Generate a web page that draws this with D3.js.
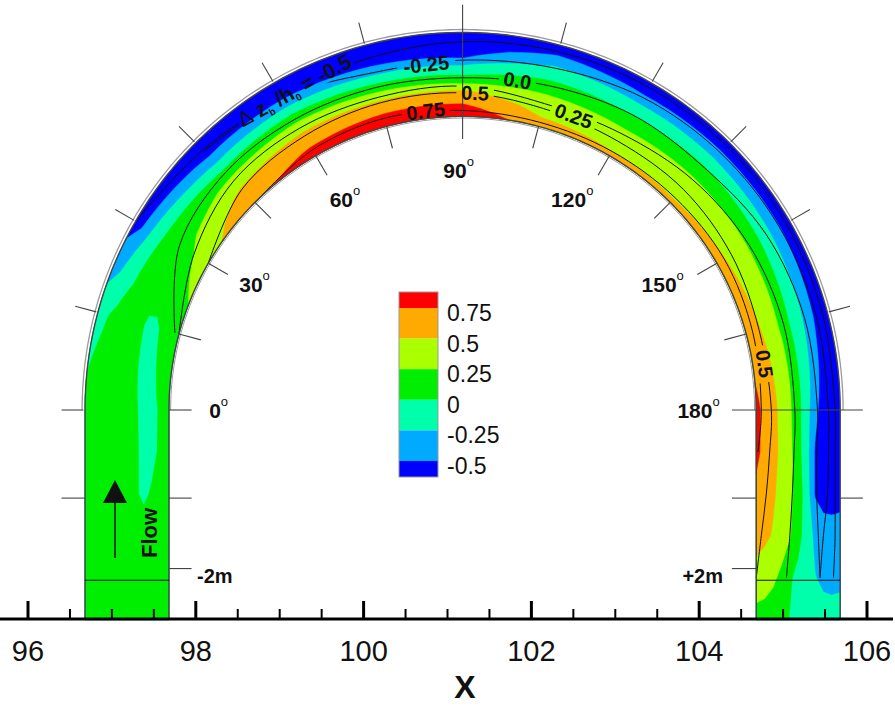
<!DOCTYPE html>
<html>
<head>
<meta charset="utf-8">
<script src="https://cdn.jsdelivr.net/npm/d3@7"></script>
<style>
  body { margin: 0; background: #fff; }
  svg text { font-family: "Liberation Sans", Arial, sans-serif; }
</style>
</head>
<body>
<svg id="chart" width="895" height="706"></svg>
<script>
// ---- data ----
// streamwise stations: left straight (y, m), bend (deg), right straight (y, m)
var leftY = [-2.5, -2, -1.5, -1, -0.5];
var bendAngles = [0, 15, 30, 45, 60, 75, 90, 105, 120, 135, 150, 165, 180];
var rightY = [-0.5, -1, -1.5, -2, -2.5];
// cross-stream positions, 0 = inner bank, 1 = outer bank
var crossN = [0, 0.1, 0.2, 0.3, 0.4, 0.5, 0.6, 0.7, 0.8, 0.9, 1];

// measured dz_b/h_0, one row per station, inner -> outer
var dzLeft = [
  [0.10, 0.10, 0.12, 0.12, 0.10, 0.10, 0.10, 0.10, 0.10, 0.08, 0.08],
  [0.12, 0.12, 0.12, 0.10, 0.10, 0.10, 0.10, 0.10, 0.10, 0.10, 0.08],
  [0.10, 0.10, 0.08, 0.08, 0.10, 0.12, 0.12, 0.12, 0.10, 0.10, 0.10],
  [0.10, 0.06, 0.02, -0.03, 0.02, 0.08, 0.10, 0.10, 0.10, 0.10, 0.10],
  [0.08, 0.03, -0.04, -0.05, 0.03, 0.08, 0.10, 0.10, 0.10, 0.10, 0.10]
];
var dzBend = [
  [0.06, 0.02, -0.04, -0.05, 0.02, 0.08, 0.10, 0.10, 0.10, 0.08, 0.06],
  [0.15, 0.08, 0.02, -0.03, -0.02, 0.05, 0.10, 0.08, 0.04, -0.02, -0.10],
  [0.40, 0.33, 0.25, 0.20, 0.15, 0.10, 0.02, -0.12, -0.30, -0.52, -0.60],
  [0.70, 0.64, 0.55, 0.42, 0.28, 0.08, -0.12, -0.35, -0.55, -0.65, -0.72],
  [0.86, 0.77, 0.66, 0.53, 0.37, 0.16, -0.07, -0.31, -0.55, -0.65, -0.72],
  [0.93, 0.82, 0.69, 0.53, 0.30, 0.05, -0.18, -0.44, -0.60, -0.70, -0.78],
  [0.95, 0.82, 0.68, 0.52, 0.22, -0.02, -0.23, -0.51, -0.65, -0.75, -0.80],
  [0.62, 0.51, 0.42, 0.34, 0.24, 0.09, -0.05, -0.18, -0.35, -0.55, -0.62],
  [0.55, 0.47, 0.39, 0.31, 0.22, 0.07, -0.07, -0.22, -0.45, -0.60, -0.66],
  [0.54, 0.47, 0.40, 0.33, 0.26, 0.14, -0.01, -0.17, -0.38, -0.58, -0.65],
  [0.58, 0.51, 0.43, 0.35, 0.27, 0.12, -0.04, -0.19, -0.38, -0.56, -0.65],
  [0.66, 0.58, 0.48, 0.36, 0.24, 0.04, -0.11, -0.26, -0.46, -0.62, -0.70],
  [0.80, 0.70, 0.57, 0.43, 0.29, 0.07, -0.15, -0.43, -0.62, -0.72, -0.78]
];
var dzRight = [
  [0.80, 0.69, 0.57, 0.45, 0.32, 0.08, -0.15, -0.52, -0.65, -0.72, -0.75],
  [0.70, 0.62, 0.53, 0.43, 0.32, 0.12, -0.12, -0.52, -0.60, -0.60, -0.58],
  [0.60, 0.55, 0.48, 0.37, 0.27, 0.08, -0.12, -0.30, -0.38, -0.40, -0.40],
  [0.40, 0.35, 0.29, 0.20, 0.03, -0.07, -0.16, -0.24, -0.30, -0.32, -0.32],
  [0.15, 0.15, 0.12, 0.08, -0.01, -0.08, -0.10, -0.12, -0.15, -0.15, -0.12]
];

var levels = [-0.5, -0.25, 0, 0.25, 0.5, 0.75];
var bandColors = ["#0000ff", "#00aaff", "#00ffaa", "#00ee00", "#aaff00", "#ffaa00", "#ff0000"];
var legendLabels = ["0.75", "0.5", "0.25", "0", "-0.25", "-0.5"];

// computed contour lines: cross-stream position n at each station (null = absent)
var _ = null;
var lineM050 = [_, _, _, _, _, _, _, 1.0, 0.88, 0.81, 0.84, 0.89, 0.92, 0.94, 0.95, 0.95, 0.94, 0.94, 0.94, 0.94, 0.94, 0.92, _];
var lineM025 = [_, _, _, _, _, _, _, _, 0.86, 0.80, 0.66, 0.67, 0.72, 0.80, 0.84, 0.86, 0.86, 0.86, 0.86, 0.85, 0.80, 0.76, _];
var lineZero = [_, _, _, _, _, _, 0.05, 0.40, 0.50, 0.50, 0.48, 0.46, 0.50, 0.56, 0.58, 0.68, 0.72, 0.73, 0.72, 0.72, 0.74, 0.76, _];
var lineP025 = [_, _, _, _, _, _, 0.0, 0.20, 0.36, 0.38, 0.36, 0.36, 0.28, 0.30, 0.38, 0.44, 0.46, 0.46, 0.45, 0.43, 0.40, 0.36, _];
var lineP050 = [_, _, _, _, _, _, _, 0.0, 0.22, 0.27, 0.29, 0.28, 0.22, 0.20, 0.22, 0.20, 0.16, 0.18, 0.16, 0.12, 0.06, 0.0, _];
var lineP075 = [_, _, _, _, _, _, _, _, 0.0, 0.08, 0.10, 0.07, 0.05, 0.06, 0.08, 0.10, 0.08, 0.06, 0.02, _, _, _, _];

var xTicks = [96, 98, 100, 102, 104, 106];
var angleLabels = [0, 30, 60, 90, 120, 150, 180];

// ---- geometry ----
var cx = 101.18, rIn = 3.5, rOut = 4.5;
var svg = d3.select("#chart");
var x = d3.scaleLinear().domain([96, 106]).range([28, 867]);
var pxPerM = x(1) - x(0);
var y = d3.scaleLinear().domain([0, 1]).range([410, 410 - pxPerM]);

var rows = dzLeft.concat(dzBend, dzRight);
var nSt = rows.length, nCross = crossN.length;
var nLeft = leftY.length, nBend = bendAngles.length;

function stationXY(j, n) {
  var r = rIn + n * (rOut - rIn);
  if (j < nLeft) return [cx - r, leftY[j]];
  if (j < nLeft + nBend) {
    var a = bendAngles[j - nLeft] * Math.PI / 180;
    return [cx - r * Math.cos(a), r * Math.sin(a)];
  }
  return [cx + r, rightY[j - nLeft - nBend]];
}
function toMeters(gj, n) {
  var j0 = Math.min(Math.floor(gj), nSt - 2), t = gj - j0;
  var inBend = j0 >= nLeft && j0 + 1 < nLeft + nBend;
  if (inBend) {
    var r = rIn + n * (rOut - rIn);
    var a = (bendAngles[j0 - nLeft] * (1 - t) + bendAngles[j0 + 1 - nLeft] * t) * Math.PI / 180;
    return [cx - r * Math.cos(a), r * Math.sin(a)];
  }
  var p = stationXY(j0, n), q = stationXY(j0 + 1, n);
  return [p[0] + (q[0] - p[0]) * t, p[1] + (q[1] - p[1]) * t];
}
function toPx(gj, n) { var m = toMeters(gj, n); return [x(m[0]), y(m[1])]; }
function polarPx(deg, r) {
  var a = deg * Math.PI / 180;
  return [x(cx - r * Math.cos(a)), y(r * Math.sin(a))];
}

// ---- filled contours ----
var values = [];
rows.forEach(function(row) { row.forEach(function(v) { values.push(v); }); });
var thresholds = [-9].concat(levels);
var contours = d3.contours().size([nCross, nSt]).thresholds(thresholds)(values);

function gridPx(p) {
  var i = Math.max(0, Math.min(nCross - 1, p[0] - 0.5));
  var j = Math.max(0, Math.min(nSt - 1, p[1] - 0.5));
  return toPx(j, crossN[0] + i * (crossN[nCross - 1] - crossN[0]) / (nCross - 1));
}
function ringPath(ring) {
  var pts = [];
  for (var k = 0; k < ring.length - 1; k++) {
    var a = ring[k], b = ring[k + 1];
    var steps = Math.max(1, Math.ceil(Math.max(Math.abs(b[0] - a[0]) / 0.5, Math.abs(b[1] - a[1]) / 0.15)));
    for (var s = 0; s < steps; s++) {
      var t = s / steps;
      pts.push(gridPx([a[0] + (b[0] - a[0]) * t, a[1] + (b[1] - a[1]) * t]));
    }
  }
  return d3.line()(pts) + "Z";
}
svg.append("g").selectAll("path")
  .data(contours)
  .join("path")
  .attr("d", function(c) {
    return c.coordinates.map(function(poly) { return poly.map(ringPath).join(""); }).join("");
  })
  .attr("fill", function(c, i) { return bandColors[i]; })
  .attr("fill-rule", "evenodd")
  .attr("stroke", function(c, i) { return bandColors[i]; })
  .attr("stroke-width", 0.4);

// ---- contour lines (with gaps for labels) ----
var labels = [
  { s: 9.15, n: 0.80, rot: -29, text: "dz" },
  { s: 10.6, n: 0.64, rot: -6, text: "-0.25" },
  { s: 11.63, n: 0.48, rot: 9.5, text: "0.0" },
  { s: 11.15, n: 0.28, rot: 2, text: "0.5" },
  { s: 12.38, n: 0.245, rot: 20.5, text: "0.25" },
  { s: 10.53, n: 0.09, rot: -7, text: "0.75" },
  { s: 16.42, n: 0.14, rot: 82, text: "0.5" }
];
var defs = svg.append("defs");
var mask = defs.append("mask").attr("id", "gapMask").attr("maskUnits", "userSpaceOnUse")
  .attr("x", 0).attr("y", 0).attr("width", 895).attr("height", 706);
mask.append("rect").attr("width", 895).attr("height", 706).attr("fill", "#fff");
labels.forEach(function(l) {
  var p = toPx(l.s, l.n);
  var w = l.text === "dz" ? 130 : l.text.length * 10.5 + 6;
  mask.append("rect")
    .attr("x", -w / 2).attr("y", -9).attr("width", w).attr("height", 18)
    .attr("transform", "translate(" + p + ")rotate(" + l.rot + ")")
    .attr("fill", "#000");
});

var contourLines = [lineM050, lineM025, lineZero, lineP025, lineP050, lineP075];
var lineGen = d3.line()
  .defined(function(d) { return d !== null; })
  .x(function(d) { return d[0]; }).y(function(d) { return d[1]; })
  .curve(d3.curveCatmullRom.alpha(0.5));
svg.append("g").attr("mask", "url(#gapMask)")
  .selectAll("path")
  .data(contourLines)
  .join("path")
  .attr("d", function(arr) {
    return lineGen(arr.map(function(n, j) { return n === null ? null : toPx(j, n); }));
  })
  .attr("fill", "none").attr("stroke", "#111").attr("stroke-width", 1);

// ---- channel banks ----
function bankPath(n) {
  var pts = [];
  for (var g = 0; g <= nSt - 1 + 1e-9; g += 0.05) pts.push(toPx(g, n));
  return d3.line()(pts);
}
svg.append("path").attr("d", bankPath(0)).attr("fill", "none").attr("stroke", "#444").attr("stroke-width", 1.4);
svg.append("path").attr("d", bankPath(1)).attr("fill", "none").attr("stroke", "#444").attr("stroke-width", 1.4);
svg.append("path")
  .attr("d", d3.line()(d3.range(0, 180.5, 1).map(function(a) { return polarPx(a, rOut + 0.035); })))
  .attr("fill", "none").attr("stroke", "#9a9a9a").attr("stroke-width", 1.3);
svg.append("path")
  .attr("d", d3.line()(d3.range(0, 180.5, 1).map(function(a) { return polarPx(a, rIn - 0.02); })))
  .attr("fill", "none").attr("stroke", "#9a9a9a").attr("stroke-width", 1);

// ---- angle ticks ----
var tickG = svg.append("g").attr("stroke", "#444").attr("stroke-width", 1.1);
d3.range(0, 181, 15).forEach(function(a) {
  if (a === 90 || a === 180) {
    var r0 = a === 90 ? rIn - 0.27 : rIn - 0.29, r1 = a === 90 ? rOut + 0.33 : rOut + 0.27;
    var p0 = polarPx(a, r0), p1 = polarPx(a, r1);
    tickG.append("line").attr("x1", p0[0]).attr("y1", p0[1]).attr("x2", p1[0]).attr("y2", p1[1]);
    return;
  }
  var o0 = polarPx(a, rOut + 0.02), o1 = polarPx(a, rOut + 0.28);
  var i0 = polarPx(a, rIn), i1 = polarPx(a, rIn - 0.27);
  tickG.append("line").attr("x1", o0[0]).attr("y1", o0[1]).attr("x2", o1[0]).attr("y2", o1[1]);
  tickG.append("line").attr("x1", i0[0]).attr("y1", i0[1]).attr("x2", i1[0]).attr("y2", i1[1]);
});
// straight-leg ticks
[[cx - rOut - 0.28, cx - rOut], [cx - rIn, cx - rIn + 0.27], [cx + rIn - 0.29, cx + rIn], [cx + rOut, cx + rOut + 0.27]]
  .forEach(function(seg) {
    tickG.append("line").attr("x1", x(seg[0])).attr("x2", x(seg[1])).attr("y1", y(-1.05)).attr("y2", y(-1.05));
  });
[[cx - rIn, cx - rIn + 0.27], [cx + rIn - 0.29, cx + rIn]].forEach(function(seg) {
  tickG.append("line").attr("x1", x(seg[0])).attr("x2", x(seg[1])).attr("y1", y(-1.89)).attr("y2", y(-1.89));
});
// section line at -2 m across both legs
[[cx - rOut, cx - rIn], [cx + rIn, cx + rOut]].forEach(function(seg) {
  svg.append("line").attr("x1", x(seg[0])).attr("x2", x(seg[1])).attr("y1", y(-2.03)).attr("y2", y(-2.03))
    .attr("stroke", "#111").attr("stroke-width", 1.1);
});

// ---- angle labels ----
angleLabels.forEach(function(a) {
  var p = polarPx(a + 2 * Math.sin(2 * a * Math.PI / 180), 2.86);
  var t = svg.append("text").attr("x", p[0] - 4).attr("y", p[1] + 8)
    .attr("text-anchor", "middle").attr("font-size", 21).attr("font-weight", "bold").attr("fill", "#111");
  t.append("tspan").text(a);
  t.append("tspan").attr("dy", -12).attr("font-size", 13).attr("font-weight", "normal").text("o");
});

// ---- contour labels ----
labels.forEach(function(l) {
  var p = toPx(l.s, l.n);
  var t = svg.append("text")
    .attr("transform", "translate(" + p + ")rotate(" + l.rot + ")")
    .attr("text-anchor", "middle").attr("dy", 7)
    .attr("font-size", 20).attr("font-weight", "bold").attr("fill", "#111");
  if (l.text === "dz") {
    t.attr("font-size", 21);
    t.append("tspan").attr("font-weight", "normal").text("\u0394");
    t.append("tspan").text(" z");
    t.append("tspan").attr("font-size", 10).attr("dy", 4).text("b");
    t.append("tspan").attr("dy", -4).text(" /h");
    t.append("tspan").attr("font-size", 10).attr("dy", 4).text("0");
    t.append("tspan").attr("dy", -4).text(" = -0.5");
  } else {
    t.text(l.text);
  }
});

// ---- legend ----
var legendScale = d3.scaleLinear().domain([0, 5]).range([308, 461]);
var legendColorsTop = bandColors.slice().reverse();
var lg = svg.append("g");
legendColorsTop.forEach(function(c, i) {
  var top = i === 0 ? 292 : legendScale(i - 1);
  var bot = i === 6 ? 477 : legendScale(i);
  lg.append("rect").attr("x", 399).attr("y", top).attr("width", 39).attr("height", bot - top).attr("fill", c);
});
lg.append("rect").attr("x", 399).attr("y", 292).attr("width", 39).attr("height", 185)
  .attr("fill", "none").attr("stroke", "#999").attr("stroke-width", 1);
legendLabels.forEach(function(lab, i) {
  lg.append("text").attr("x", 447).attr("y", legendScale(i) + 13)
    .attr("font-size", 23).attr("fill", "#111").text(lab);
});

// ---- flow arrow + station labels ----
svg.append("line").attr("x1", 115).attr("x2", 115).attr("y1", 502).attr("y2", 558)
  .attr("stroke", "#111").attr("stroke-width", 1.5);
svg.append("path").attr("d", "M103,503L127,503L115,480Z").attr("fill", "#111");
svg.append("text").attr("transform", "translate(157,533)rotate(-90)")
  .attr("text-anchor", "middle").attr("font-size", 22).attr("font-weight", "bold").attr("fill", "#111").text("Flow");
svg.append("text").attr("x", 197).attr("y", 583).attr("font-size", 20).attr("font-weight", "bold").attr("fill", "#111").text("-2m");
svg.append("text").attr("x", 723).attr("y", 583).attr("text-anchor", "end").attr("font-size", 20).attr("font-weight", "bold").attr("fill", "#111").text("+2m");

// ---- x axis ----
var axisY = 619;
svg.append("line").attr("x1", 0).attr("x2", 893).attr("y1", axisY).attr("y2", axisY)
  .attr("stroke", "#000").attr("stroke-width", 3);
var ax = svg.append("g");
d3.range(96, 106.01, 0.5).forEach(function(v) {
  var major = xTicks.indexOf(v) >= 0;
  ax.append("line").attr("x1", x(v)).attr("x2", x(v)).attr("y1", axisY).attr("y2", axisY - (major ? 18 : 10))
    .attr("stroke", "#000").attr("stroke-width", major ? 3 : 2);
});
xTicks.forEach(function(v) {
  ax.append("text").attr("x", x(v)).attr("y", 661).attr("text-anchor", "middle")
    .attr("font-size", 29).attr("fill", "#111").text(v);
});
svg.append("text").attr("x", 465).attr("y", 698).attr("text-anchor", "middle")
  .attr("font-size", 32).attr("font-weight", "bold").attr("fill", "#111").text("X");
</script>
</body>
</html>
